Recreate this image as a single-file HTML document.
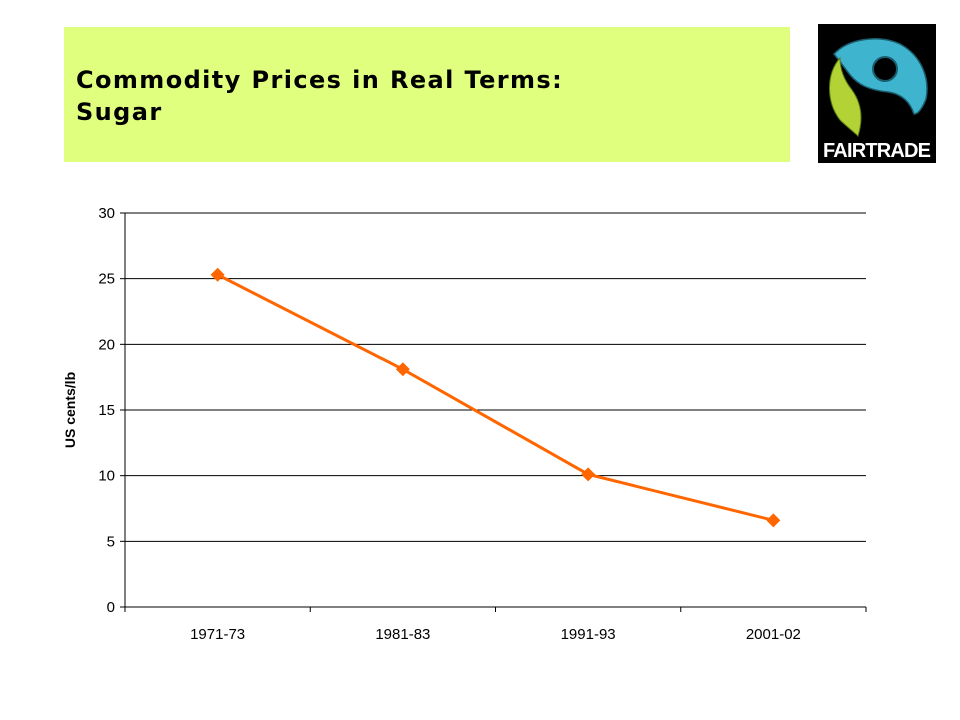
<!DOCTYPE html>
<html><head><meta charset="utf-8"><style>
body{margin:0;width:960px;height:720px;background:#fff;position:relative;overflow:hidden;font-family:"Liberation Sans",Arial,sans-serif}
#banner{position:absolute;left:64px;top:27px;width:726px;height:135px;background:#e0ff7f}
#title{position:absolute;left:76px;top:64px;font-family:"DejaVu Sans",sans-serif;font-size:24px;font-weight:bold;color:#000;line-height:32px;letter-spacing:1.4px}
#logo{position:absolute;left:818px;top:24px;width:118px;height:139px;background:#000}
</style></head><body>
<div id="banner"></div>
<div id="title">Commodity Prices in Real Terms:<br>Sugar</div>
<svg id="logo" width="118" height="139" viewBox="0 0 118 139">
<path d="M16 30 C30 15 60 10 82 20 C104 32 112 55 108 75 C104 85 100 90 96 90 C92 78 84 70 70 68 C50 66 40 60 33 52 C28 46 24 40 16 30 Z" fill="#3fb4cf" stroke="#1a5e6e" stroke-width="1.5"/>
<circle cx="67" cy="45" r="12" fill="#000" stroke="#1a5e6e" stroke-width="2"/>
<path d="M22 34 C8 50 8 78 22 96 C28 102 36 108 40 112 C45 96 44 80 34 66 C26 56 22 46 22 34 Z" fill="#b2d235" stroke="#5a7a10" stroke-width="1"/>
<text x="59" y="133" text-anchor="middle" font-family="Liberation Sans, Arial, sans-serif" font-size="20" font-weight="bold" fill="#fff" textLength="108">FAIRTRADE</text>
</svg>
<svg id="chart" width="960" height="720" style="position:absolute;left:0;top:0">
<g id="grid"></g><g id="axes"></g><g id="series"></g>
<text transform="translate(75,410) rotate(-90)" text-anchor="middle" font-size="14" font-weight="bold" fill="#000">US cents/lb</text>
</svg>
<script>
const categories=["1971-73","1981-83","1991-93","2001-02"];
const values=[25.3,18.1,10.1,6.6];
const yTicks=[0,5,10,15,20,25,30];
const x0=125,x1=866,yTop=213,yBot=607,yMax=30;
const ns="http://www.w3.org/2000/svg";
const band=(x1-x0)/categories.length;
const xs=i=>x0+band*(i+0.5);
const ys=v=>yBot-(v/yMax)*(yBot-yTop);
function mk(t,a,p){const e=document.createElementNS(ns,t);for(const k in a)e.setAttribute(k,a[k]);p.appendChild(e);return e;}
const grid=document.getElementById('grid'),axes=document.getElementById('axes'),ser=document.getElementById('series');
yTicks.forEach(v=>{
 const y=ys(v);
 if(v>0){const l=mk('line',{x1:x0,x2:x1,y1:y,y2:y,stroke:'#000','stroke-width':1},grid);
 
 }
 const tk=mk('line',{x1:x0-5,x2:x0,y1:y,y2:y,stroke:'#000'},axes);
 
 
 const t=mk('text',{x:x0-10,y:y+5,'text-anchor':'end','font-size':15,fill:'#000'},axes);t.textContent=v;
 
 
});
const ya=mk('line',{x1:x0,x2:x0,y1:yTop,y2:yBot,stroke:'#000'},axes);


const xa=mk('line',{x1:x0,x2:x1,y1:yBot,y2:yBot,stroke:'#000'},axes);


for(let i=0;i<=categories.length;i++){const x=x0+band*i;const tk=mk('line',{x1:x,x2:x,y1:yBot,y2:yBot+5,stroke:'#000'},axes);
 
 }
categories.forEach((c,i)=>{const t=mk('text',{x:xs(i),y:yBot+32,'text-anchor':'middle','font-size':15,fill:'#000'},axes);t.textContent=c;
 
 });
const pl=mk('polyline',{points:values.map((v,i)=>xs(i)+','+ys(v)).join(' '),fill:'none',stroke:'#ff6600','stroke-width':3},ser);


values.forEach((v,i)=>{const x=xs(i),y=ys(v);const p=mk('polygon',{points:`${x},${y-7} ${x+7},${y} ${x},${y+7} ${x-7},${y}`,fill:'#ff6600'},ser);
 
 });
</script>
</body></html>
